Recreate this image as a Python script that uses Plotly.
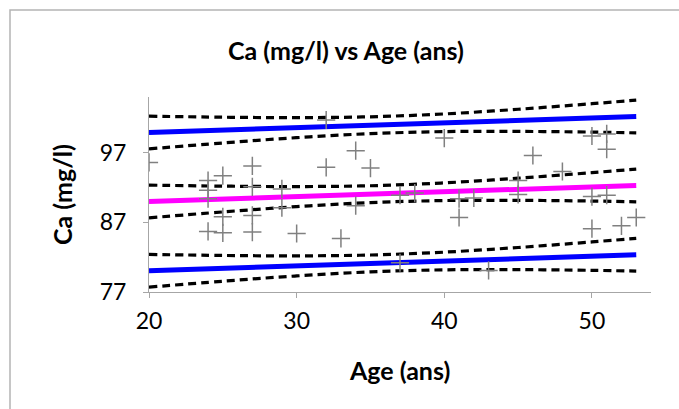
import plotly.graph_objects as go

# Observed samples: age (years) and calcium (mg/l)
ages = [20, 24, 24, 24, 24, 25, 25, 25, 27, 27, 27, 27, 29, 29, 30,
        32, 32, 33, 34, 34, 35, 37, 37, 38, 40, 41, 41, 42, 43, 45, 45,
        46, 48, 50, 50, 50, 51, 51, 51, 52, 53]
calcium = [95.6, 93.0, 91.6, 90.4, 85.7, 93.7, 87.8, 85.5, 95.1, 92.1, 88.0, 85.6, 91.8, 89.1, 85.4,
           101.7, 94.9, 84.7, 97.3, 89.4, 94.8, 90.9, 81.2, 91.2, 99.1, 90.4, 87.7, 90.5, 80.1, 93.0, 91.0,
           96.6, 94.3, 99.4, 90.7, 86.1, 99.7, 97.5, 90.9, 86.5, 87.7]

# Regression line, prediction limits and confidence half-widths at sample ages
line_ages = [20, 25, 30, 35, 40, 45, 50, 53]
fit = [90.0, 90.35, 90.7, 91.05, 91.4, 91.75, 92.1, 92.3]
pred_upper = [99.9, 100.25, 100.6, 100.95, 101.3, 101.65, 102.0, 102.2]
pred_lower = [80.05, 80.4, 80.75, 81.1, 81.45, 81.8, 82.15, 82.35]
ci_half = [2.35, 1.85, 1.44, 1.21, 1.27, 1.59, 2.04, 2.35]

x_ticks = [20, 30, 40, 50]
y_ticks = [77, 87, 97]
x_range = [20, 54]
y_range = [77, 105]

W, H = 679, 409
L, R, T, B = 149, 28, 97, 117
pw, ph = W - L - R, H - T - B


def px(x):
    return (x - L) / pw


def py(y):
    return (H - B - y) / ph


FONT = "Lato, 'DejaVu Sans', sans-serif"
fig = go.Figure()

dash_style = dict(color="black", width=3.2, dash="8px,5px", shape="spline")
for centre in (pred_upper, fit, pred_lower):
    for sign in (1, -1):
        fig.add_trace(go.Scatter(
            x=line_ages, y=[c + sign * h for c, h in zip(centre, ci_half)],
            mode="lines", line=dash_style, hoverinfo="skip", showlegend=False))

fig.add_trace(go.Scatter(x=line_ages, y=pred_upper, mode="lines",
                         line=dict(color="#0000FF", width=5), showlegend=False))
fig.add_trace(go.Scatter(x=line_ages, y=pred_lower, mode="lines",
                         line=dict(color="#0000FF", width=5), showlegend=False))
fig.add_trace(go.Scatter(x=line_ages, y=fit, mode="lines",
                         line=dict(color="#FF00FF", width=5), showlegend=False))

fig.add_trace(go.Scatter(
    x=ages, y=calcium, mode="markers",
    marker=dict(symbol="cross-thin", size=13,
                line=dict(color="#808080", width=1.5)),
    showlegend=False))

axis_common = dict(showgrid=False, zeroline=False, showline=True,
                   linecolor="#A6A6A6", linewidth=1, ticks="outside",
                   ticklen=5, tickcolor="#A6A6A6", mirror=False,
                   tickfont=dict(family=FONT, size=23, color="black"))

title_font = dict(family=FONT, size=25, color="black")

fig.update_layout(
    width=W, height=H,
    margin=dict(l=L, r=R, t=T, b=B),
    paper_bgcolor="white", plot_bgcolor="white",
    xaxis=dict(range=x_range, tickvals=x_ticks, ticklabelstandoff=3, **axis_common),
    yaxis=dict(range=y_range, tickvals=y_ticks, ticklabelstandoff=12, **axis_common),
    shapes=[dict(type="rect", xref="paper", yref="paper",
                 x0=px(10), x1=px(W + 20), y0=py(H + 20), y1=py(10),
                 line=dict(color="#B4B4B4", width=1.5), layer="below")],
    annotations=[
        dict(text="<b>Ca (mg/l) vs Age (ans)</b>", xref="paper", yref="paper",
             x=px(346), y=py(50), xanchor="center", yanchor="middle",
             showarrow=False, font=title_font),
        dict(text="<b>Age (ans)</b>", xref="paper", yref="paper",
             x=px(399), y=py(370), xanchor="center", yanchor="middle",
             showarrow=False, font=title_font),
        dict(text="<b>Ca (mg/l)</b>", xref="paper", yref="paper",
             x=px(62), y=py(195), xanchor="center", yanchor="middle",
             showarrow=False, textangle=-90, font=title_font),
    ],
)

fig.write_html("out.html")
